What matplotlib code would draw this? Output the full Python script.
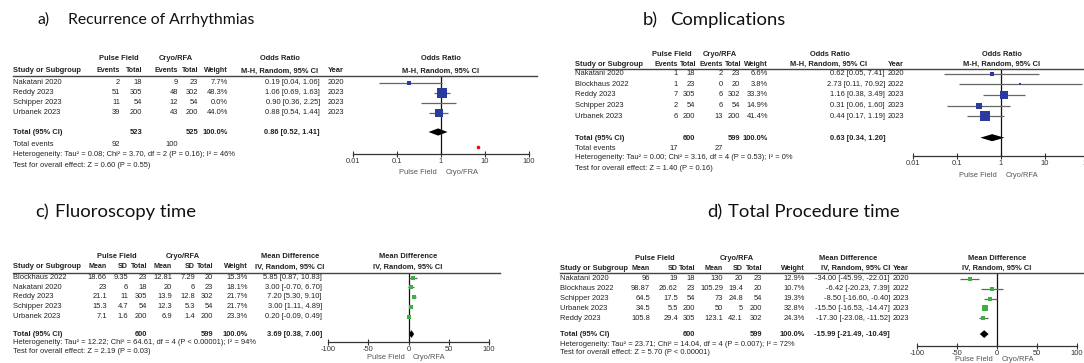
import numpy as np
import matplotlib.pyplot as plt
from matplotlib.lines import Line2D

plt.rcParams['font.family'] = ['Liberation Sans', 'DejaVu Sans']

# ===== DATA =====
# a) Recurrence of Arrhythmias (odds ratio)
a_study = ["Nakatani 2020", "Reddy 2023", "Schipper 2023", "Urbanek 2023"]
a_pf_events = [2, 51, 11, 39]
a_pf_total = [18, 305, 54, 200]
a_cr_events = [9, 48, 12, 43]
a_cr_total = [23, 302, 54, 200]
a_weight = [7.7, 48.3, 0.0, 44.0]
a_est = [0.19, 1.06, 0.90, 0.88]
a_lo = [0.04, 0.69, 0.36, 0.54]
a_hi = [1.06, 1.63, 2.25, 1.44]
a_year = [2020, 2023, 2023, 2023]
a_tot_n = [523, 525]
a_tot_events = [92, 100]
a_pooled = [0.86, 0.52, 1.41]
a_het = "Heterogeneity: Tau² = 0.08; Chi² = 3.70, df = 2 (P = 0.16); I² = 46%"
a_test = "Test for overall effect: Z = 0.60 (P = 0.55)"
a_stray = 7.0  # red dot near the axis

# b) Complications (odds ratio)
b_study = ["Nakatani 2020", "Blockhaus 2022", "Reddy 2023", "Schipper 2023", "Urbanek 2023"]
b_pf_events = [1, 1, 7, 2, 6]
b_pf_total = [18, 23, 305, 54, 200]
b_cr_events = [2, 0, 6, 6, 13]
b_cr_total = [23, 20, 302, 54, 200]
b_weight = [6.6, 3.8, 33.3, 14.9, 41.4]
b_est = [0.62, 2.73, 1.16, 0.31, 0.44]
b_lo = [0.05, 0.11, 0.38, 0.06, 0.17]
b_hi = [7.41, 70.92, 3.49, 1.60, 1.19]
b_year = [2020, 2022, 2023, 2023, 2023]
b_tot_n = [600, 599]
b_tot_events = [17, 27]
b_pooled = [0.63, 0.34, 1.20]
b_het = "Heterogeneity: Tau² = 0.00; Chi² = 3.16, df = 4 (P = 0.53); I² = 0%"
b_test = "Test for overall effect: Z = 1.40 (P = 0.16)"

# c) Fluoroscopy time (mean difference)
c_study = ["Blockhaus 2022", "Nakatani 2020", "Reddy 2023", "Schipper 2023", "Urbanek 2023"]
c_pf_mean = [18.66, 23, 21.1, 15.3, 7.1]
c_pf_sd = [9.35, 6, 11, 4.7, 1.6]
c_pf_n = [23, 18, 305, 54, 200]
c_cr_mean = [12.81, 20, 13.9, 12.3, 6.9]
c_cr_sd = [7.29, 6, 12.8, 5.3, 1.4]
c_cr_n = [20, 23, 302, 54, 200]
c_weight = [15.3, 18.1, 21.7, 21.7, 23.3]
c_est = [5.85, 3.00, 7.20, 3.00, 0.20]
c_lo = [0.87, -0.70, 5.30, 1.11, -0.09]
c_hi = [10.83, 6.70, 9.10, 4.89, 0.49]
c_tot_n = [600, 599]
c_pooled = [3.69, 0.38, 7.00]
c_het = "Heterogeneity: Tau² = 12.22; Chi² = 64.61, df = 4 (P < 0.00001); I² = 94%"
c_test = "Test for overall effect: Z = 2.19 (P = 0.03)"

# d) Total Procedure time (mean difference)
d_study = ["Nakatani 2020", "Blockhaus 2022", "Schipper 2023", "Urbanek 2023", "Reddy 2023"]
d_pf_mean = [96, 98.87, 64.5, 34.5, 105.8]
d_pf_sd = [19, 26.62, 17.5, 5.5, 29.4]
d_pf_n = [18, 23, 54, 200, 305]
d_cr_mean = [130, 105.29, 73, 50, 123.1]
d_cr_sd = [20, 19.4, 24.8, 5, 42.1]
d_cr_n = [23, 20, 54, 200, 302]
d_weight = [12.9, 10.7, 19.3, 32.8, 24.3]
d_est = [-34.00, -6.42, -8.50, -15.50, -17.30]
d_lo = [-45.99, -20.23, -16.60, -16.53, -23.08]
d_hi = [-22.01, 7.39, -0.40, -14.47, -11.52]
d_year = [2020, 2022, 2023, 2023, 2023]
d_tot_n = [600, 599]
d_pooled = [-15.99, -21.49, -10.49]
d_het = "Heterogeneity: Tau² = 23.71; Chi² = 14.04, df = 4 (P = 0.007); I² = 72%"
d_test = "Test for overall effect: Z = 5.70 (P < 0.00001)"

log_ticks = [0.01, 0.1, 1, 10, 100]
log_labels = ["0.01", "0.1", "1", "10", "100"]
md_ticks = [-100, -50, 0, 50, 100]
md_labels = ["-100", "-50", "0", "50", "100"]

# ===== FIGURE =====
W, H = 1084, 363
fig = plt.figure(figsize=(W / 100, H / 100), dpi=100)
fig.patch.set_facecolor('white')

TXT = '#222222'
BLUE = '#2a3a9e'
GREEN = '#3cb043'
CIGRAY = '#666666'
FS = 5.4
HS = 5.1  # column header size


def fx(px):
    return px / W


def fy(py):
    return 1 - py / H


def txt(x, y, s, ha='left', bold=False, size=FS, color=TXT):
    fig.text(fx(x), fy(y), s, ha=ha, va='center', fontsize=size,
             fontweight='bold' if bold else 'normal', color=color)


def hline(x0, x1, y):
    fig.add_artist(Line2D([fx(x0), fx(x1)], [fy(y), fy(y)], color='#444444', lw=1.0))


def title(x_tag, x_text, y, tag, s, size):
    fig.text(fx(x_tag), fy(y), tag, fontsize=size, family='Lato', va='center', color='#111111')
    fig.text(fx(x_text), fy(y), s, fontsize=size, family='Lato', va='center', color='#111111')


def forest(x0, x1, top, bottom, row0, dy, xlim, log, ticks, labels, null, lab_off, cr_name):
    ax = fig.add_axes([fx(x0), fy(bottom), (x1 - x0) / W, (bottom - top) / H])
    if log:
        ax.set_xscale('log')
    ax.set_xlim(xlim)
    ax.set_ylim((bottom - row0) / dy, (top - row0) / dy)
    ax.patch.set_alpha(0)
    for s in ['top', 'left', 'right']:
        ax.spines[s].set_visible(False)
    ax.spines['bottom'].set_color('#333333')
    ax.spines['bottom'].set_linewidth(0.9)
    ax.set_yticks([])
    ax.set_xticks(ticks)
    ax.set_xticklabels(labels)
    ax.minorticks_off()
    ax.tick_params(axis='x', direction='inout', length=5, width=0.8, color='#333333',
                   labelsize=FS, labelcolor='#333333', pad=0.5)
    ax.axvline(null, color='#111111', lw=0.9)
    ax.annotate("Pulse Field", xy=(null, 0), xycoords=('data', 'axes fraction'),
                xytext=(-3, -lab_off), textcoords='offset points', ha='right', va='center',
                fontsize=FS, color='#555555')
    ax.annotate(cr_name, xy=(null, 0), xycoords=('data', 'axes fraction'),
                xytext=(3, -lab_off), textcoords='offset points', ha='left', va='center',
                fontsize=FS, color='#555555')
    return ax


def draw_studies(ax, est, lo, hi, weight, color, scale, n):
    for i in range(n):
        ax.plot([lo[i], hi[i]], [i, i], color=CIGRAY, lw=0.9, solid_capstyle='butt')
        if weight[i] > 0:
            ax.plot(est[i], i, 's', color=color, ms=max(1.3, scale * np.sqrt(weight[i])), mew=0)


def draw_diamond(ax, pooled, yrow, h):
    est, lo, hi = pooled
    ax.fill([lo, est, hi, est], [yrow, yrow - h, yrow, yrow + h], color='black', lw=0)


# ===== PANEL A =====
title(38, 68, 20, "a)", "Recurrence of Arrhythmias", 11.3)
L = 13
txt(119, 59, "Pulse Field", ha='center', bold=True)
txt(176, 59, "Cryo/RFA", ha='center', bold=True)
txt(280, 59, "Odds Ratio", ha='center', bold=True)
txt(441, 59, "Odds Ratio", ha='center', bold=True)
txt(L, 71, "Study or Subgroup", bold=True)
for x, s in zip([120, 142, 178, 198, 228], ["Events", "Total", "Events", "Total", "Weight"]):
    txt(x, 71, s, ha='right', bold=True, size=HS)
txt(280, 71, "M-H, Random, 95% CI", ha='center', bold=True)
txt(328, 71, "Year", bold=True)
txt(441, 71, "M-H, Random, 95% CI", ha='center', bold=True)
hline(L, 537, 75.5)
for i in range(len(a_study)):
    y = 83 + 10 * i
    txt(L, y, a_study[i])
    txt(120, y, f"{a_pf_events[i]}", ha='right')
    txt(142, y, f"{a_pf_total[i]}", ha='right')
    txt(178, y, f"{a_cr_events[i]}", ha='right')
    txt(198, y, f"{a_cr_total[i]}", ha='right')
    txt(228, y, f"{a_weight[i]:.1f}%", ha='right')
    txt(320, y, f"{a_est[i]:.2f} [{a_lo[i]:.2f}, {a_hi[i]:.2f}]", ha='right')
    txt(328, y, f"{a_year[i]}")
txt(L, 132, "Total (95% CI)", bold=True)
txt(142, 132, f"{a_tot_n[0]}", ha='right', bold=True)
txt(198, 132, f"{a_tot_n[1]}", ha='right', bold=True)
txt(228, 132, "100.0%", ha='right', bold=True)
txt(320, 132, f"{a_pooled[0]:.2f} [{a_pooled[1]:.2f}, {a_pooled[2]:.2f}]", ha='right', bold=True)
txt(L, 144, "Total events")
txt(120, 144, f"{a_tot_events[0]}", ha='right')
txt(178, 144, f"{a_tot_events[1]}", ha='right')
txt(L, 155, a_het)
txt(L, 165, a_test)

ax_a = forest(353, 529, 75.5, 154, 83, 10, (0.01, 100), True, log_ticks, log_labels, 1, 13, "Cryo/FRA")
draw_studies(ax_a, a_est, a_lo, a_hi, a_weight, BLUE, 0.95, len(a_study))
draw_diamond(ax_a, a_pooled, 4.9, 0.36)
ax_a.plot(a_stray, 6.4, 'o', color='red', ms=2.6, mew=0, clip_on=False)

# ===== PANEL B =====
title(643, 670, 20, "b)", "Complications", 13.3)
L = 575
txt(672, 54, "Pulse Field", ha='center', bold=True)
txt(720, 54, "Cryo/RFA", ha='center', bold=True)
txt(830, 54, "Odds Ratio", ha='center', bold=True)
txt(1002, 54, "Odds Ratio", ha='center', bold=True)
txt(L, 64, "Study or Subgroup", bold=True)
for x, s in zip([678, 696, 723, 741, 768], ["Events", "Total", "Events", "Total", "Weight"]):
    txt(x, 64, s, ha='right', bold=True, size=HS)
txt(829, 64, "M-H, Random, 95% CI", ha='center', bold=True)
txt(888, 64, "Year", bold=True)
txt(1002, 64, "M-H, Random, 95% CI", ha='center', bold=True)
hline(L, W, 68.5)
for i in range(len(b_study)):
    y = 73.5 + 10.7 * i
    txt(L, y, b_study[i])
    txt(678, y, f"{b_pf_events[i]}", ha='right')
    txt(695, y, f"{b_pf_total[i]}", ha='right')
    txt(723, y, f"{b_cr_events[i]}", ha='right')
    txt(740, y, f"{b_cr_total[i]}", ha='right')
    txt(768, y, f"{b_weight[i]:.1f}%", ha='right')
    txt(885, y, f"{b_est[i]:.2f} [{b_lo[i]:.2f}, {b_hi[i]:.2f}]", ha='right')
    txt(888, y, f"{b_year[i]}")
txt(L, 138, "Total (95% CI)", bold=True)
txt(695, 138, f"{b_tot_n[0]}", ha='right', bold=True)
txt(740, 138, f"{b_tot_n[1]}", ha='right', bold=True)
txt(768, 138, "100.0%", ha='right', bold=True)
txt(885, 138, f"{b_pooled[0]:.2f} [{b_pooled[1]:.2f}, {b_pooled[2]:.2f}]", ha='right', bold=True)
txt(L, 148, "Total events")
txt(678, 148, f"{b_tot_events[0]}", ha='right')
txt(723, 148, f"{b_tot_events[1]}", ha='right')
txt(L, 158, b_het)
txt(L, 168, b_test)

ax_b = forest(913, 1089, 68.5, 156, 73.5, 10.7, (0.01, 100), True, log_ticks, log_labels, 1, 14, "Cryo/RFA")
draw_studies(ax_b, b_est, b_lo, b_hi, b_weight, BLUE, 1.05, len(b_study))
draw_diamond(ax_b, b_pooled, 6.0, 0.33)

# ===== PANEL C =====
title(35, 55, 212, "c)", "Fluoroscopy time", 13.3)
L = 13
txt(117, 257, "Pulse Field", ha='center', bold=True)
txt(183, 257, "Cryo/RFA", ha='center', bold=True)
txt(290, 257, "Mean Difference", ha='center', bold=True)
txt(408, 257, "Mean Difference", ha='center', bold=True)
txt(L, 267, "Study or Subgroup", bold=True)
for x, s in zip([107, 128, 147, 172, 195, 213, 248], ["Mean", "SD", "Total", "Mean", "SD", "Total", "Weight"]):
    txt(x, 267, s, ha='right', bold=True, size=HS)
txt(290, 267, "IV, Random, 95% CI", ha='center', bold=True)
txt(408, 267, "IV, Random, 95% CI", ha='center', bold=True)
hline(L, 500, 273)
for i in range(len(c_study)):
    y = 277.5 + 9.75 * i
    txt(L, y, c_study[i])
    txt(107, y, f"{c_pf_mean[i]:g}", ha='right')
    txt(128, y, f"{c_pf_sd[i]:g}", ha='right')
    txt(147, y, f"{c_pf_n[i]}", ha='right')
    txt(172, y, f"{c_cr_mean[i]:g}", ha='right')
    txt(195, y, f"{c_cr_sd[i]:g}", ha='right')
    txt(213, y, f"{c_cr_n[i]}", ha='right')
    txt(248, y, f"{c_weight[i]:.1f}%", ha='right')
    txt(322, y, f"{c_est[i]:.2f} [{c_lo[i]:.2f}, {c_hi[i]:.2f}]", ha='right')
txt(L, 334, "Total (95% CI)", bold=True)
txt(147, 334, f"{c_tot_n[0]}", ha='right', bold=True)
txt(213, 334, f"{c_tot_n[1]}", ha='right', bold=True)
txt(248, 334, "100.0%", ha='right', bold=True)
txt(322, 334, f"{c_pooled[0]:.2f} [{c_pooled[1]:.2f}, {c_pooled[2]:.2f}]", ha='right', bold=True)
txt(L, 343, c_het)
txt(L, 351.5, c_test)

ax_c = forest(328, 489, 273, 342, 277.5, 9.75, (-100, 100), False, md_ticks, md_labels, 0, 11, "Cryo/RFA")
draw_studies(ax_c, c_est, c_lo, c_hi, c_weight, GREEN, 0.6, len(c_study))
draw_diamond(ax_c, c_pooled, 5.8, 0.4)

# ===== PANEL D =====
title(707, 728, 212, "d)", "Total Procedure time", 13.3)
L = 560
txt(655, 259, "Pulse Field", ha='center', bold=True)
txt(737, 259, "Cryo/RFA", ha='center', bold=True)
txt(848, 259, "Mean Difference", ha='center', bold=True)
txt(997, 259, "Mean Difference", ha='center', bold=True)
txt(L, 268, "Study or Subgroup", bold=True)
for x, s in zip([650, 678, 695, 723, 743, 762, 805], ["Mean", "SD", "Total", "Mean", "SD", "Total", "Weight"]):
    txt(x, 268, s, ha='right', bold=True, size=HS)
txt(856, 268, "IV, Random, 95% CI", ha='center', bold=True)
txt(893, 268, "Year", bold=True)
txt(997, 268, "IV, Random, 95% CI", ha='center', bold=True)
hline(L, W, 273)
for i in range(len(d_study)):
    y = 279 + 9.75 * i
    txt(L, y, d_study[i])
    txt(650, y, f"{d_pf_mean[i]:g}", ha='right')
    txt(678, y, f"{d_pf_sd[i]:g}", ha='right')
    txt(695, y, f"{d_pf_n[i]}", ha='right')
    txt(723, y, f"{d_cr_mean[i]:g}", ha='right')
    txt(743, y, f"{d_cr_sd[i]:g}", ha='right')
    txt(762, y, f"{d_cr_n[i]}", ha='right')
    txt(805, y, f"{d_weight[i]:.1f}%", ha='right')
    txt(890, y, f"{d_est[i]:.2f} [{d_lo[i]:.2f}, {d_hi[i]:.2f}]", ha='right')
    txt(893, y, f"{d_year[i]}")
txt(L, 334, "Total (95% CI)", bold=True)
txt(695, 334, f"{d_tot_n[0]}", ha='right', bold=True)
txt(762, 334, f"{d_tot_n[1]}", ha='right', bold=True)
txt(805, 334, "100.0%", ha='right', bold=True)
txt(890, 334, f"{d_pooled[0]:.2f} [{d_pooled[1]:.2f}, {d_pooled[2]:.2f}]", ha='right', bold=True)
txt(L, 344, d_het)
txt(L, 353, d_test)

ax_d = forest(917, 1077, 273, 346, 279, 9.75, (-100, 100), False, md_ticks, md_labels, 0, 10, "Cryo/RFA")
draw_studies(ax_d, d_est, d_lo, d_hi, d_weight, GREEN, 0.72, len(d_study))
draw_diamond(ax_d, d_pooled, 5.65, 0.4)

fig.savefig("out.png", dpi=100, facecolor='white')
